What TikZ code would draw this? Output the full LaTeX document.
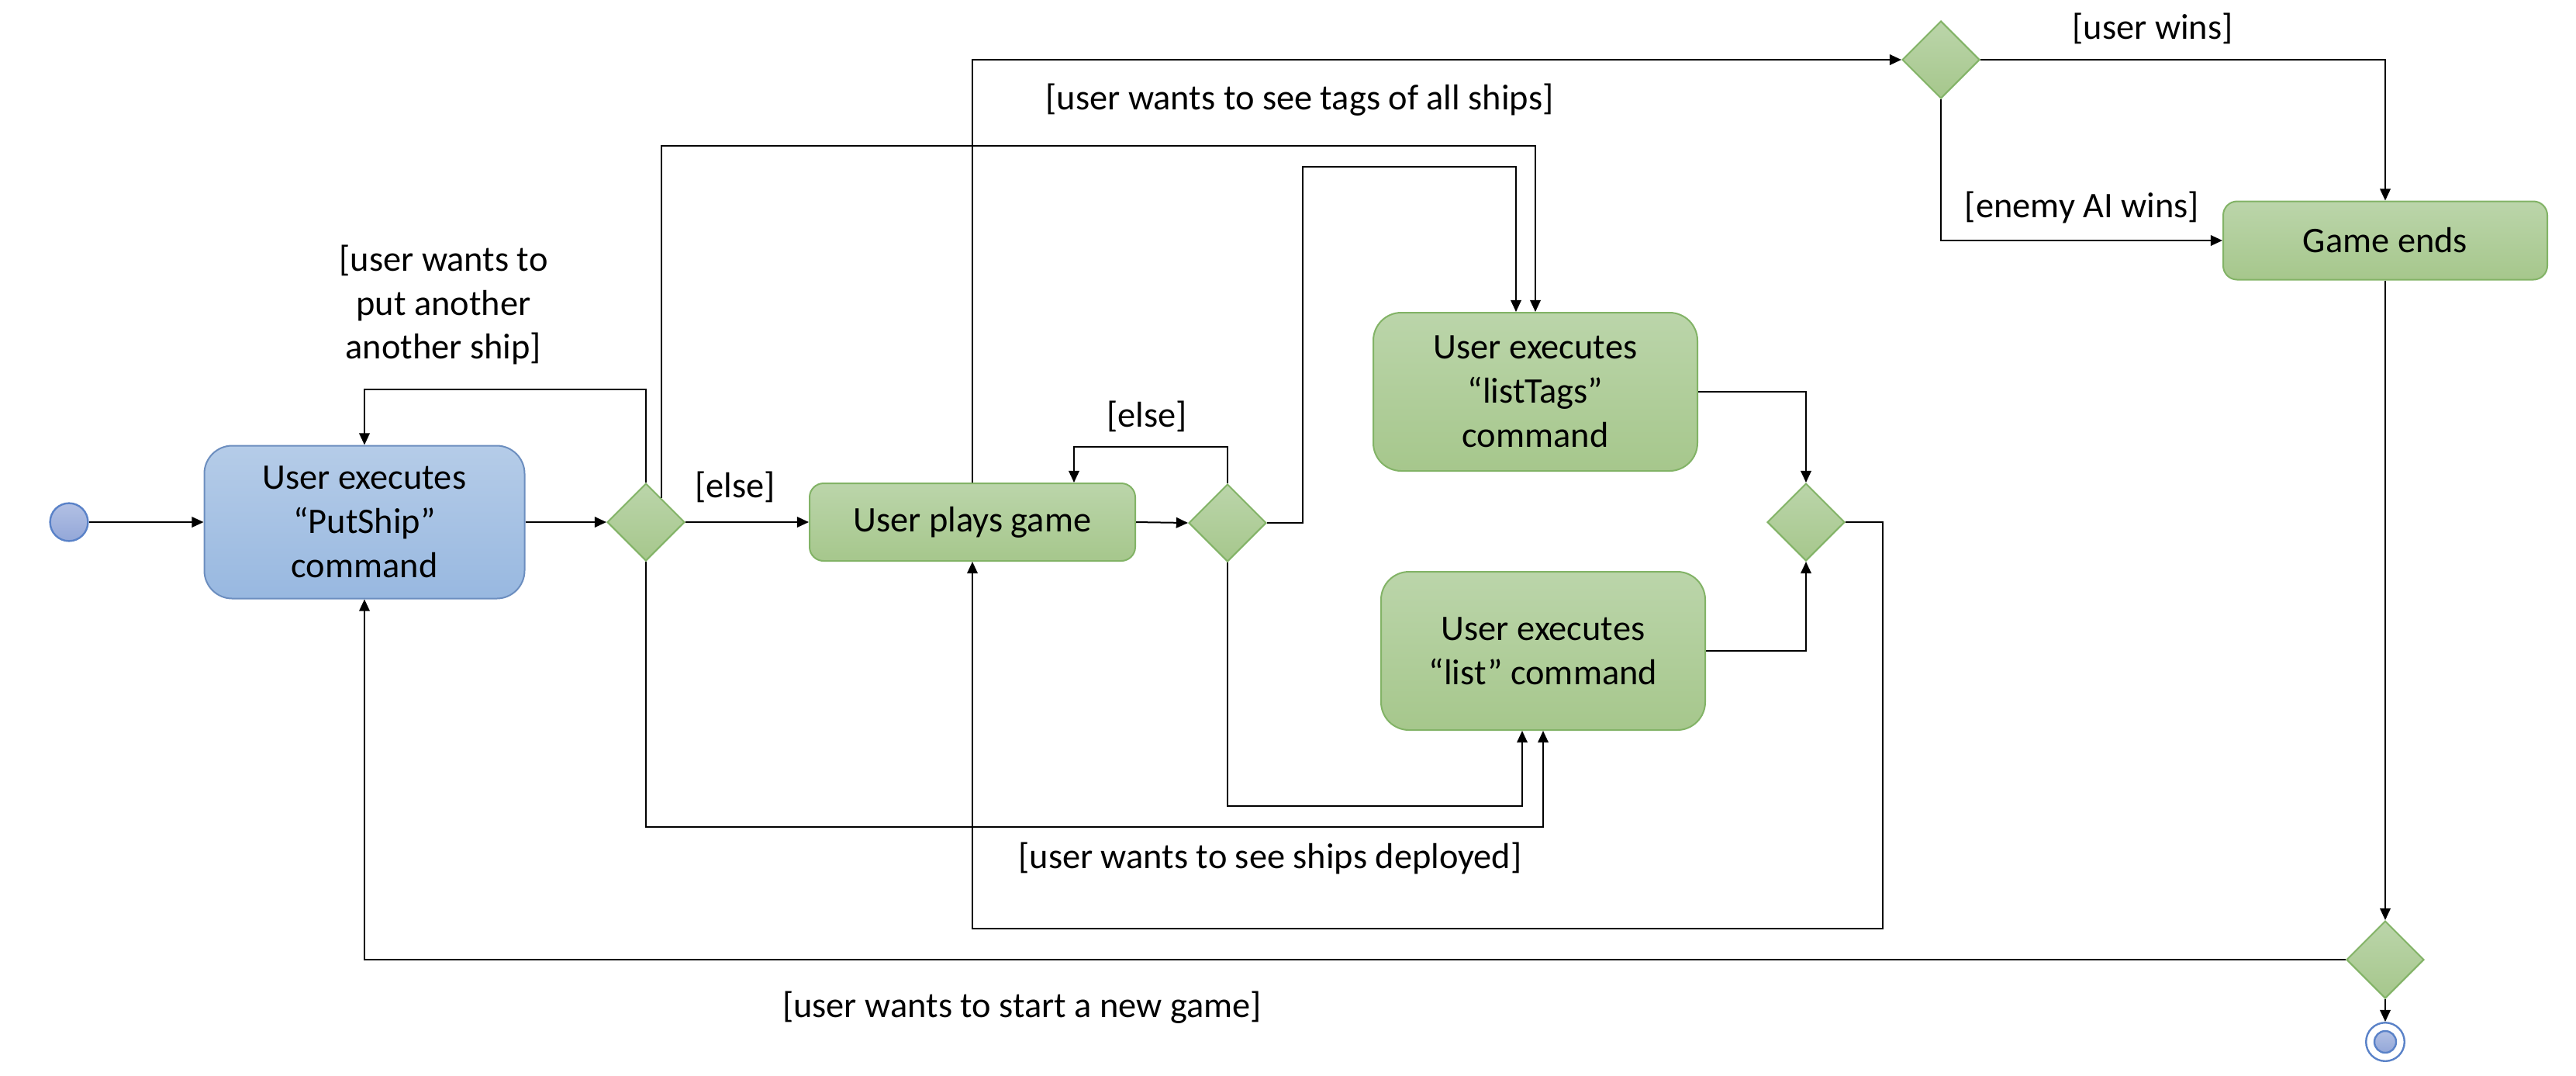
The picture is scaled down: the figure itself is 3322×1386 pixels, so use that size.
\documentclass[tikz,border=0pt]{standalone}
\usepackage{fontspec}
\setmainfont{Carlito}
\usetikzlibrary{shapes.geometric,arrows.meta,calc}

\definecolor{gtop}{HTML}{BBD5AA}
\definecolor{gbot}{HTML}{A6C78C}
\definecolor{gstroke}{HTML}{82B366}
\definecolor{btop}{HTML}{B5CCE8}
\definecolor{bbot}{HTML}{98B8E0}
\definecolor{bstroke}{HTML}{6C8EBF}
\definecolor{ctop}{HTML}{B2C0E4}
\definecolor{cbot}{HTML}{93A7D8}
\definecolor{cstroke}{HTML}{5A82C8}

\begin{document}
\begin{tikzpicture}[x=0.25pt,y=-0.25pt,
  font=\fontsize{11.6}{14.2}\selectfont,
  line/.style={draw=black, line width=0.5pt},
  arr/.style={line, -{Triangle[length=3.8pt,width=3.4pt]}},
  greenact/.style={draw=gstroke, line width=0.5pt, top color=gtop, bottom color=gbot,
    align=center, inner sep=0pt},
  blueact/.style={draw=bstroke, line width=0.5pt, top color=btop, bottom color=bbot,
    align=center, inner sep=0pt},
  decision/.style={diamond, aspect=1, draw=gstroke, line width=0.5pt,
    top color=gtop, bottom color=gbot, minimum width=25pt, minimum height=25pt, inner sep=0pt},
  guard/.style={align=center, inner sep=0pt},
]
\useasboundingbox (0,0) rectangle (3322,1386);

% activity nodes
\node[circle, draw=cstroke, line width=0.6pt, top color=ctop, bottom color=cbot,
  minimum size=12.2pt, inner sep=0pt] (start) at (89,673) {};
\node[blueact, rounded corners=9pt, minimum width=103.25pt, minimum height=49.25pt] (put) at (470,673)
  {User executes\\“PutShip”\\command};
\node[decision] (d1) at (833,673) {};
\node[greenact, rounded corners=4.5pt, minimum width=105pt, minimum height=25pt] (play) at (1254,673)
  {User plays game};
\node[decision] (d2) at (1583,674) {};
\node[greenact, rounded corners=9pt, minimum width=104.5pt, minimum height=51pt] (tags) at (1980,505)
  {User executes\\“listTags”\\command};
\node[greenact, rounded corners=9pt, minimum width=104.5pt, minimum height=51pt] (list) at (1990,839)
  {User executes\\“list” command};
\node[decision] (d3) at (2329,673) {};
\node[decision] (win) at (2503,77) {};
\node[greenact, rounded corners=4.5pt, minimum width=104.5pt, minimum height=25.25pt] (ends) at (3076,310)
  {Game ends};
\node[decision] (d4) at (3076,1237) {};
\node[circle, draw=cstroke, line width=0.6pt, fill=white, minimum size=12.4pt, inner sep=0pt]
  (endo) at (3076,1343) {};
\node[circle, draw=cstroke, line width=0.6pt, top color=ctop, bottom color=cbot,
  minimum size=7pt, inner sep=0pt] (endi) at (3076,1343) {};

% guard labels
\node[guard] (gput) at (572,393) {[user wants to\\put another\\another ship]};
\node[guard] (gelse1) at (948,628) {[else]};
\node[guard] (gelse2) at (1479,537) {[else]};
\node[guard] (gtags) at (1676,129) {[user wants to see tags of all ships]};
\node[guard] (glist) at (1638,1106) {[user wants to see ships deployed]};
\node[guard] (gnew) at (1318,1299) {[user wants to start a new game]};
\node[guard] (gwin) at (2776,37) {[user wins]};
\node[guard] (glose) at (2685,267) {[enemy AI wins]};

% flows
\draw[arr] (start) -- (put);
\draw[arr] (put) -- (d1);
\draw[arr] (d1.north) |- ($(put.north)+(0,-72)$) -- (put.north);
\draw[arr] (d1.east) -- (play.west);
\draw[arr] ($(d1.north)!0.4!(d1.east)$) |- ($(tags.north)+(0,-214)$) -- (tags.north);
\draw[arr] (d1.south) |- ($(list.south)+(0,124)$) -- (list.south);
\draw[arr] (play.east) -- (d2.west);
\draw[arr] (d2.north) |- ($(play.north)+(131,-46)$) -- ($(play.north)+(131,0)$);
\draw[arr] (d2.east) -- ++(46,0) |- ($(tags.north)+(-25,-187)$) -- ($(tags.north)+(-25,0)$);
\draw[arr] (d2.south) |- ($(list.south)+(-27,97)$) -- ($(list.south)+(-27,0)$);
\draw[arr] (tags.east) -| (d3.north);
\draw[arr] (list.east) -| (d3.south);
\draw[arr] (d3.east) -- ++(48,0) |- ($(play.south)+(0,473)$) -- (play.south);
\draw[arr] (play.north) |- (win.west);
\draw[arr] (win.east) -| (ends.north);
\draw[arr] (win.south) |- (ends.west);
\draw[arr] (ends.south) -- (d4.north);
\draw[arr] (d4.south) -- (endo.north);
\draw[arr] (d4.west) -| (put.south);
\end{tikzpicture}
\end{document}
